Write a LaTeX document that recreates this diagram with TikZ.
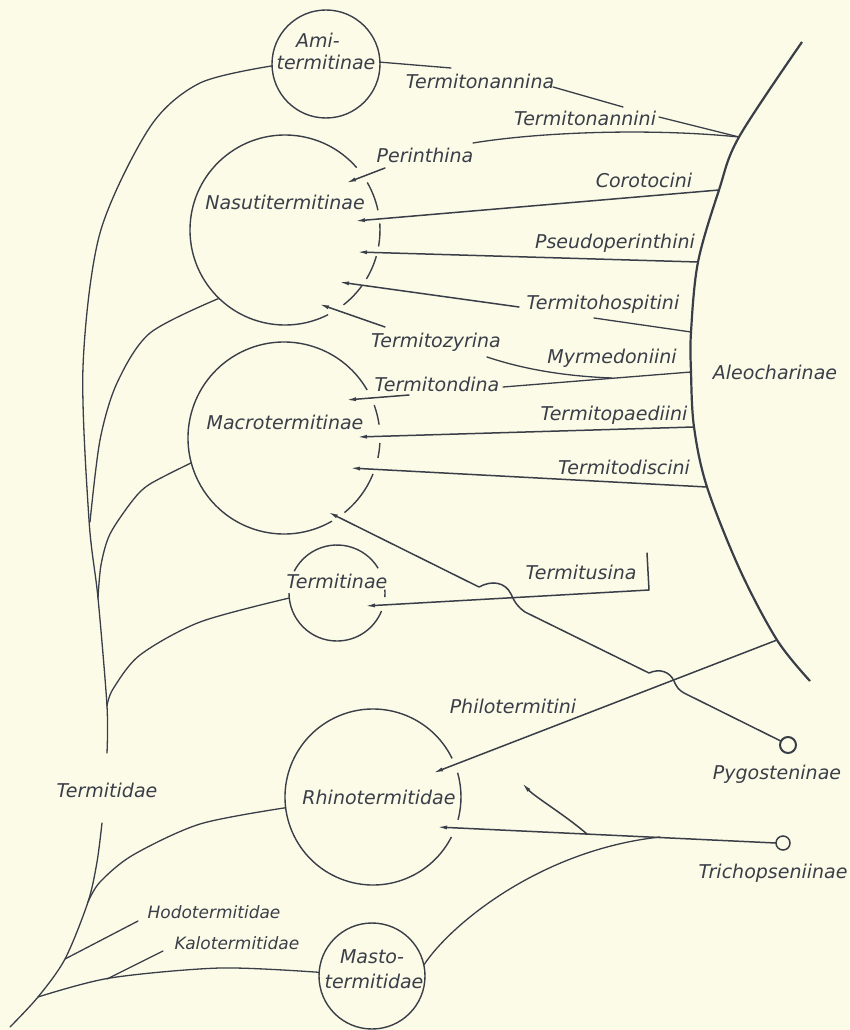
\documentclass[tikz,border=0pt]{standalone}
\usepackage{fontspec}
\setmainfont{DejaVu Sans}
\usetikzlibrary{arrows.meta}
\definecolor{bg}{RGB}{252,251,231}
\definecolor{ink}{RGB}{58,62,72}
\begin{document}
\begin{tikzpicture}[x=1pt,y=1pt,
  ln/.style={draw=ink,line width=1.3pt,line cap=round,line join=round},
  circ/.style={draw=ink,line width=1.4pt},
  arr/.style={ln,line width=1.5pt,-{Latex[length=10pt,width=4pt]}},
  lbl/.style={text=ink,inner sep=0pt,text height=14pt,text depth=0pt,font={\fontsize{19}{22}\selectfont\itshape}},
  slbl/.style={lbl,text height=12pt,font={\fontsize{17}{20}\selectfont\itshape}},
  ring/.style={circle,inner sep=0pt,outer sep=0pt}]
\fill[bg] (0,0) rectangle (849,-1030);
\useasboundingbox (0,0) rectangle (849,-1030);

% ---------- circles ----------
\node[ring,circ,minimum size=108pt] (ami) at (326,-64) {};
\node[ring,minimum size=190pt] (nas) at (285,-230) {};
\node[ring,minimum size=192pt] (mac) at (284,-438) {};
\node[ring,minimum size=96pt] (ter) at (337,-593) {};
\node[ring,minimum size=176pt] (rhi) at (373,-797) {};
\node[ring,circ,minimum size=106pt] (mas) at (372,-976) {};
\node[ring,draw=ink,line width=2pt,minimum size=16pt] (pyg) at (788,-745) {};
\node[ring,draw=ink,line width=1.5pt,minimum size=14pt] (tri) at (783,-843) {};

\draw[circ] (nas.41) arc[start angle=41,end angle=297,radius=95];
\draw[circ] (nas.30) arc[start angle=30,end angle=12,radius=95];
\draw[circ] (nas.4) arc[start angle=4,end angle=-10,radius=95];
\draw[circ] (nas.344) arc[start angle=344,end angle=329,radius=95];
\draw[circ] (nas.324) arc[start angle=324,end angle=308,radius=95];

\draw[circ] (mac.30) arc[start angle=30,end angle=300,radius=96];
\draw[circ] (mac.20) arc[start angle=20,end angle=8,radius=96];
\draw[circ] (mac.357) arc[start angle=357,end angle=348,radius=96];
\draw[circ] (mac.338) arc[start angle=338,end angle=309,radius=96];

\draw[circ] (ter.31) arc[start angle=31,end angle=153,radius=48];
\draw[circ] (ter.180) arc[start angle=180,end angle=338,radius=48];
\draw[circ] (ter.4) arc[start angle=4,end angle=-5,radius=48];

\draw[circ] (rhi.26) arc[start angle=26,end angle=333,radius=88];
\draw[circ] (rhi.16) arc[start angle=16,end angle=-15,radius=88];

% ---------- labels ----------
\node[lbl] (lami1) at (318,-41) {Ami-};
\node[lbl] (lami2) at (326,-63) {termitinae};
\node[lbl] (ltna) at (480,-82) {Termitonannina};
\node[lbl] (ltni) at (585,-118) {Termitonannini};
\node[lbl] (lper) at (425,-155) {Perinthina};
\node[lbl] (lnas) at (285,-202) {Nasutitermitinae};
\node[lbl] (lcor) at (644,-180) {Corotocini};
\node[lbl] (lpse) at (615,-241) {Pseudoperinthini};
\node[lbl] (lhos) at (603,-302) {Termitohospitini};
\node[lbl] (lzyr) at (436,-340) {Termitozyrina};
\node[lbl] (lmyr) at (612,-356) {Myrmedoniini};
\node[lbl] (lond) at (437,-384) {Termitondina};
\node[lbl] (lale) at (775,-372) {Aleocharinae};
\node[lbl] (lmac) at (285,-422) {Macrotermitinae};
\node[lbl] (lpae) at (614,-413) {Termitopaediini};
\node[lbl] (ldis) at (624,-467) {Termitodiscini};
\node[lbl] (lusi) at (581,-572) {Termitusina};
\node[lbl] (lter) at (337,-581) {Termitinae};
\node[lbl] (lphi) at (513,-706) {Philotermitini};
\node[lbl] (lpyg) at (777,-772) {Pygosteninae};
\node[lbl] (lrhi) at (379,-797) {Rhinotermitidae};
\node[lbl] (ltri) at (773,-871) {Trichopseniinae};
\node[lbl] (ltmd) at (107,-790) {Termitidae};
\node[slbl] (lhod) at (214,-912) {Hodotermitidae};
\node[slbl] (lkal) at (237,-943) {Kalotermitidae};
\node[lbl] (lmas1) at (372,-956) {Masto-};
\node[lbl] (lmas2) at (374,-981) {termitidae};

% ---------- coordinates ----------
\coordinate (a1) at (739,-137);
\coordinate (a2) at (719,-190);
\coordinate (a3) at (698,-262);
\coordinate (a4) at (691,-332);
\coordinate (a5) at (691,-372);
\coordinate (a6) at (694,-427);
\coordinate (a7) at (707,-487);
\coordinate (a8) at (777,-640);
\coordinate (tPer) at (346,-183);
\coordinate (tCor) at (355,-221);
\coordinate (tPse) at (357,-252);
\coordinate (tHos) at (339,-282);
\coordinate (tZyr) at (319,-304);
\coordinate (tOnd) at (346,-400);
\coordinate (tPae) at (357,-437);
\coordinate (tDis) at (350,-468);
\coordinate (tPyg) at (328,-512);
\coordinate (tUsi) at (365,-606);
\coordinate (tPhi) at (433,-773);
\coordinate (tTri) at (437,-827);
\coordinate (tCur) at (522,-783);
\coordinate (curJ) at (587,-834);
\coordinate (masJ) at (660,-837);

% ---------- Aleocharinae arc ----------
\draw[draw=ink,line width=2.2pt] plot[smooth,tension=0.55] coordinates {(802,-42) (a1) (a2) (a3) (a4) (a5) (a6) (a7) (740,-570) (a8) (810,-681)};

% ---------- connectors to the arc ----------
\draw[ln] (ami.2) -- (451,-68);
\draw[ln] (553,-87) -- (623,-107);
\draw[ln] (659,-117) -- (a1);
\draw[ln] (a1) .. controls (650,-128) and (540,-132) .. (473,-143);
\draw[arr] (385,-168) -- (tPer);
\draw[arr] (a2) -- (tCor);
\draw[arr] (a3) -- (tPse);
\draw[ln] (a4) -- (594,-318);
\draw[arr] (519,-307) -- (tHos);
\draw[ln] (a5) -- (503,-387);
\draw[ln] (612,-378) .. controls (560,-376) and (520,-368) .. (487,-357);
\draw[arr] (385,-327) -- (tZyr);
\draw[arr] (409,-395) -- (tOnd);
\draw[arr] (a6) -- (tPae);
\draw[arr] (a7) -- (tDis);
\draw[arr] (647,-553) -- (649,-590) -- (tUsi);
\draw[arr] (a8) -- (tPhi);

% Pygosteninae
\draw[arr] (pyg.151) -- (684,-693) .. controls (679,-690) and (677,-688) .. (674,-681)
  .. controls (670,-672) and (660,-668) .. (649,-673) -- (525,-612)
  .. controls (518,-607) and (515,-603) .. (511,-594)
  .. controls (505,-582) and (492,-580) .. (479,-587) -- (tPyg);

% Trichopseniinae
\draw[arr] (tri.west) -- (tTri);
\draw[arr] (curJ) .. controls (565,-815) and (535,-797) .. (tCur);
\draw[ln] (mas.12) .. controls (450,-925) and (540,-850) .. (masJ);

% ---------- termite tree ----------
\draw[ln] plot[smooth] coordinates {(10,-1027) (38,-997) (65,-959) (88,-902) (97,-862) (102,-823)};
\draw[ln] plot[smooth] coordinates {(107,-753) (107,-706) (98,-598) (89,-520) (83,-367) (100,-233) (150,-127) (200,-83) (ami.182)};
\draw[ln] plot[smooth] coordinates {(90,-522) (100,-440) (117,-383) (150,-333) (nas.226)};
\draw[ln] plot[smooth] coordinates {(98,-598) (101,-565) (110,-534) (133,-500) (150,-484) (mac.195)};
\draw[ln] plot[smooth] coordinates {(107,-706) (113,-689) (140,-655) (200,-622) (ter.186)};
\draw[ln] plot[smooth] coordinates {(88,-902) (100,-882) (133,-855) (200,-824) (rhi.187)};
\draw[ln] (65,-959) -- (138,-921);
\draw[ln] plot[smooth] coordinates {(38,-997) (110,-978) (220,-968) (mas.176)};
\draw[ln] (107,-979) -- (163,-951);
\end{tikzpicture}
\end{document}
